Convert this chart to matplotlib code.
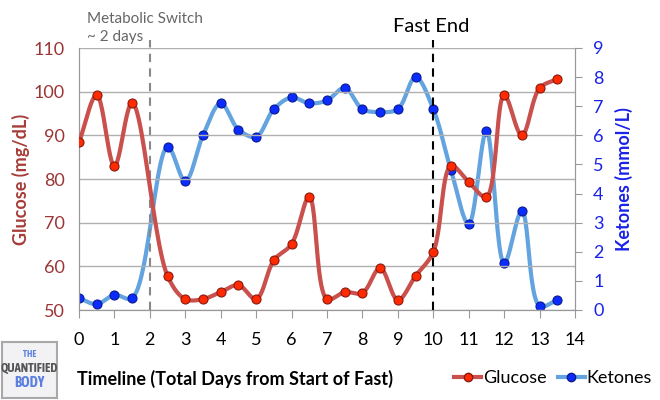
import numpy as np
import matplotlib
matplotlib.use("Agg")
import matplotlib.pyplot as plt
from matplotlib.lines import Line2D
from matplotlib import font_manager

plt.rcParams['font.family'] = ['Lato', 'DejaVu Sans']

days = [0, 0.5, 1, 1.5, 2.5, 3, 3.5, 4, 4.5, 5, 5.5, 6, 6.5, 7, 7.5, 8, 8.5, 9, 9.5,
        10, 10.5, 11, 11.5, 12, 12.5, 13, 13.5]
glucose = [88.4, 99.2, 83, 97.4, 57.8, 52.5, 52.5, 54.1, 55.7, 52.5, 61.4, 65.1, 75.9,
           52.5, 54.1, 53.9, 59.6, 52.3, 57.8, 63.3, 83, 79.3, 75.9, 99.2, 90, 100.8, 102.9]
ketones = [0.41, 0.2, 0.52, 0.41, 5.6, 4.43, 6.0, 7.1, 6.2, 5.95, 6.9, 7.3, 7.1, 7.2, 7.63,
           6.9, 6.8, 6.9, 8.0, 6.9, 4.8, 2.95, 6.15, 1.6, 3.4, 0.14, 0.34]
x_ticks = list(range(0, 15))
g_ticks = [50, 60, 70, 80, 90, 100, 110]
k_ticks = list(range(0, 10))

W, H = 660, 400
AX = [79 / W, 1 - 310 / H, (575 - 79) / W, (310 - 48) / H]


def smooth(x, y, sx, sy, n=24, alpha=0.5):
    """Centripetal Catmull-Rom through the points, computed in pixel space."""
    P = np.column_stack([np.asarray(x, float) * sx, np.asarray(y, float) * sy])
    P = np.vstack([2 * P[0] - P[1], P, 2 * P[-1] - P[-2]])
    out = []
    for i in range(1, len(P) - 2):
        p0, p1, p2, p3 = P[i - 1], P[i], P[i + 1], P[i + 2]
        t0 = 0.0
        t1 = t0 + np.linalg.norm(p1 - p0) ** alpha
        t2 = t1 + np.linalg.norm(p2 - p1) ** alpha
        t3 = t2 + np.linalg.norm(p3 - p2) ** alpha
        t = np.linspace(t1, t2, n, endpoint=False)[:, None]
        A1 = (t1 - t) / (t1 - t0) * p0 + (t - t0) / (t1 - t0) * p1
        A2 = (t2 - t) / (t2 - t1) * p1 + (t - t1) / (t2 - t1) * p2
        A3 = (t3 - t) / (t3 - t2) * p2 + (t - t2) / (t3 - t2) * p3
        B1 = (t2 - t) / (t2 - t0) * A1 + (t - t0) / (t2 - t0) * A2
        B2 = (t3 - t) / (t3 - t1) * A2 + (t - t1) / (t3 - t1) * A3
        C = (t2 - t) / (t2 - t1) * B1 + (t - t1) / (t2 - t1) * B2
        out.append(C)
    out.append(P[-2][None, :])
    S = np.vstack(out)
    return S[:, 0] / sx, S[:, 1] / sy


g_line = '#c9504c'
g_mark = '#ff2a00'
k_line = '#63a3e0'
k_mark = '#0a2cff'
g_text = '#9c3535'
k_text = '#1a22e8'

fig = plt.figure(figsize=(6.6, 4.0), dpi=100)
ax = fig.add_axes(AX)
ax2 = ax.twinx()

ax.set_xlim(0, 14)
ax.set_ylim(50, 110)
ax2.set_ylim(0, 9)

px_x = (575 - 79) / 14.0
px_g = (310 - 48) / 60.0
px_k = (310 - 48) / 9.0

for gv in g_ticks:
    ax.axhline(gv, color='#b0b0b0', lw=1.0, zorder=0)

sx, sy = smooth(days, glucose, px_x, px_g)
ax.plot(sx, sy, color=g_line, lw=3, zorder=3, solid_capstyle='round')
ax.plot(days, glucose, 'o', color=g_mark, mec='#8a1a10', mew=0.8, ms=6.5, zorder=4)

kx, ky = smooth(days, ketones, px_x, px_k)
ax2.plot(kx, ky, color=k_line, lw=3, zorder=3, solid_capstyle='round')
ax2.plot(days, ketones, 'o', color=k_mark, mec='#0a1a90', mew=0.8, ms=6.5, zorder=4)

ax.set_zorder(ax2.get_zorder() + 1)
ax.patch.set_visible(False)

# dashed lines
ax.plot([2, 2], [50, 111.8], ls=(0, (4, 3)), color='#888888', lw=1.5, clip_on=False, zorder=2)
ax.plot([10, 10], [50, 111.8], ls=(0, (4, 3)), color='black', lw=1.5, clip_on=False, zorder=2)

for a in (ax, ax2):
    a.spines['top'].set_visible(False)
    a.spines['left'].set_color('#999999')
    a.spines['right'].set_color('#999999')
    a.spines['bottom'].set_color('#999999')

ax.set_xticks(x_ticks)
ax.set_xticklabels([str(v) for v in x_ticks], fontsize=13)
ax.tick_params(axis='x', length=6, color='#999999', pad=10, direction='out')
ax.set_yticks(g_ticks)
ax.set_yticklabels([str(v) for v in g_ticks], fontsize=13, color=g_text)
ax.tick_params(axis='y', length=0, pad=10)
ax2.set_yticks(k_ticks)
ax2.set_yticklabels([str(v) for v in k_ticks], fontsize=13, color=k_text)
ax2.tick_params(axis='y', length=5, color='#999999', pad=8)

ax.set_ylabel('Glucose (mg/dL)', fontsize=13, fontweight='bold', color='#a63c38', labelpad=3)
ax2.set_ylabel('Ketones (mmol/L)', fontsize=13, fontweight='bold', color=k_text, labelpad=8)

fig.text(0.117, 0.0525, 'Timeline (Total Days from Start of Fast)', fontsize=13,
         fontweight='bold', ha='left', va='center')

fig.text(87 / W, 1 - 28 / H, 'Metabolic Switch\n~ 2 days', fontsize=11, color='#666666',
         ha='left', va='center', linespacing=1.45)
fig.text(431 / W, 1 - 26 / H, 'Fast End', fontsize=14.5, color='black', ha='center', va='center')

handles = [Line2D([], [], color=g_line, lw=3, marker='o', mfc=g_mark, mec='#8a1a10', ms=6),
           Line2D([], [], color=k_line, lw=3, marker='o', mfc=k_mark, mec='#0a1a90', ms=6)]
fig.legend(handles, ['Glucose', 'Ketones'], loc='center', bbox_to_anchor=(0.838, 0.055),
           ncol=2, frameon=False, fontsize=13, handlelength=1.5, handletextpad=0.1,
           columnspacing=0.6)

# logo
narrow = None
for f in font_manager.fontManager.ttflist:
    if ('Narrow' in f.name or 'Condensed' in f.name) and f.weight in ('bold', 700):
        narrow = f.name
        break
logo_family = [narrow, 'DejaVu Sans'] if narrow else ['DejaVu Sans']
lax = fig.add_axes([2 / W, 1 - 398 / H, 55 / W, 56 / H])
lax.set_xticks([]); lax.set_yticks([])
lax.set_facecolor('#f2f2f4')
for s in lax.spines.values():
    s.set_color('#a8a8a8'); s.set_linewidth(1.5)
lax.text(0.5, 0.77, 'THE', fontsize=6.5, color='#5b7fe0', ha='center', va='center',
         fontweight='bold', family=logo_family)
lax.text(0.5, 0.53, 'QUANTIFIED', fontsize=9 if narrow else 5.6, color='#555555', ha='center',
         va='center', fontweight='bold', family=logo_family)
lax.text(0.5, 0.27, 'BODY', fontsize=10.5, color='#5b7fe0', ha='center', va='center',
         fontweight='bold', family=logo_family)

fig.savefig('out.png', dpi=100)
